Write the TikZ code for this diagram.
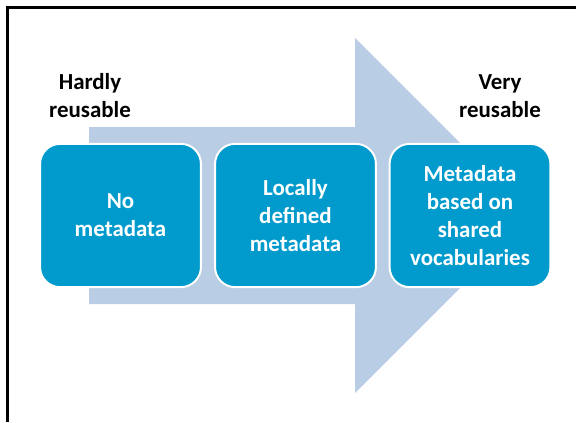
\documentclass[tikz,border=0pt]{standalone}
\usepackage{fontspec}
\setmainfont{Carlito}
\usepackage{tikz}
\usetikzlibrary{positioning}
\definecolor{arrowblue}{RGB}{185,205,229}
\definecolor{boxblue}{RGB}{0,155,204}

\begin{document}
\begin{tikzpicture}[x=0.025cm, y=-0.025cm,
	stage/.style={draw=white, line width=1.4pt, fill=boxblue, rounded corners=0.5cm,
		minimum width=4.02cm, minimum height=3.58cm, align=center, text=white,
		font=\fontsize{16.3}{19.9}\selectfont\bfseries},
	label/.style={align=center, font=\fontsize{16.3}{19.9}\selectfont\bfseries},
	frame/.style={line width=1.8pt}
]
	\useasboundingbox (0,0) rectangle (576,422);

	% Frame
	\draw[frame] (7.5,422) -- (7.5,7.5) -- (576,7.5);

	% Big arrow behind
	\fill[arrowblue] (89,127) -- (355,127) -- (355,38) -- (532.5,215.5)
		-- (355,393) -- (355,304) -- (89,304) -- cycle;

	% End labels
	\node[label] (hardly) at (90,96) {Hardly\\reusable};
	\node[label] (very) at (500,96) {Very\\reusable};

	% Stages
	\node[stage] (none) at (120.5,215.5) {No\\metadata};
	\node[stage] (local) at (295.5,215.5) {Locally\\defined\\metadata};
	\node[stage] (shared) at (470,215.5) {Metadata\\based on\\shared\\vocabularies};
\end{tikzpicture}
\end{document}
